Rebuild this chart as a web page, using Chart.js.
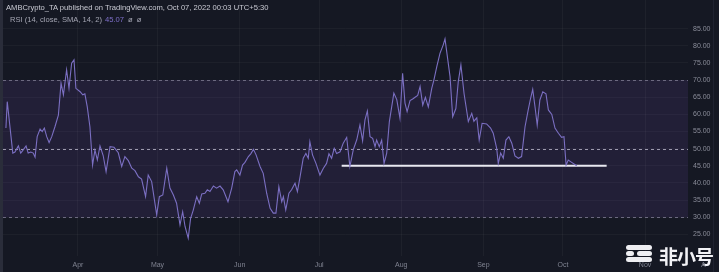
<!DOCTYPE html>
<html>
<head>
<meta charset="utf-8">
<script src="https://cdn.jsdelivr.net/npm/chart.js@4"></script>
<style>
  body { margin: 0; background: #151823; }
  #wrap { position: relative; width: 719px; height: 272px; overflow: hidden; font-family: "Liberation Sans", Arial, sans-serif; }
  #c { position: absolute; left: 0; top: 0; }
  .hdr { position: absolute; white-space: nowrap; font-size: 7.6px; line-height: 9px; }
  #h1 { left: 6px; top: 3px; color: #c9cad3; }
  #h2 { left: 10px; top: 15px; color: #a4a5b2; }
  #h2 .val { color: #7e6fc9; margin-left: 3px; }
  #h2 .ic { margin-left: 4px; color: #a4a5b2; }
  #wm { position: absolute; left: 659px; top: 242px; font-family: "Noto Sans CJK SC", sans-serif; font-weight: 700; font-size: 19px; color: #f2f2f6; letter-spacing: -1px; }
  .pill { position: absolute; background: #eeeef2; border-radius: 3px; height: 4.5px; }
  #auto { position: absolute; left: 701px; top: 261px; font-size: 7px; color: #7f8290; }
</style>
</head>
<body>
<div id="wrap">
  <canvas id="c" width="719" height="272"></canvas>
  <div class="hdr" id="h1">AMBCrypto_TA published on TradingView.com, Oct 07, 2022 00:03 UTC+5:30</div>
  <div class="hdr" id="h2">RSI (14, close, SMA, 14, 2)<span class="val">45.07</span><span class="ic">ø</span><span class="ic">ø</span></div>
  <div class="pill" style="left:626px;top:245px;width:26px;"></div>
  <div class="pill" style="left:626px;top:251px;width:8px;"></div>
  <div class="pill" style="left:637px;top:251px;width:15px;"></div>
  <div class="pill" style="left:626px;top:257px;width:26px;"></div>
  <div id="wm">非小号</div>
  <div id="auto">A</div>
</div>
<script>
// days counted from Apr 1 2022, RSI values
const days = [
  -27.2, -26.7, -24.6, -23.8, -22.5, -21.6, -20.6, -19.6, -18.8, -17.8,
  -16.9, -16.2, -15.4, -14.3, -13.5, -12.7, -11.8, -10.9, -9.9, -8.7,
  -7.4, -6.4, -5.5, -4.3, -3.4, -2.4, -1.5, -0.8, 0.8, 1.8,
  2.6, 3.5, 4.5, 5.5, 6.4, 7.3, 8.3, 9.5, 10.6, 12.1,
  13.6, 15.2, 16.5, 17.7, 19, 20.3, 21.5, 22.8, 24, 25.5,
  26.5, 27.8, 29.7, 30.7, 32, 33.5, 34.7, 36, 37.2, 38.5,
  39.5, 40.4, 41.6, 42.5, 43.5, 44.8, 45.8, 46.7, 47.9, 48.8,
  49.8, 51.1, 52.3, 53.6, 54.8, 56.6, 58, 59.2, 59.9, 61.1,
  62.1, 63, 64.3, 65.2, 66.2, 67.2, 68.7, 69.9, 71.2, 72.5,
  73.7, 74.7, 75.8, 76.9, 77.5, 78.4, 79.6, 80.6, 81.9, 82.8,
  83.8, 85, 86, 86.9, 87.5, 88.5, 89.8, 91.3, 92.6, 93.8,
  94.7, 95.7, 96.7, 97.6, 98.9, 100.1, 101.4, 102.6, 103.9, 105.2,
  106.4, 107.4, 108.3, 109.2, 110.2, 111.2, 112.1, 112.7, 113.7, 114.6,
  115.5, 116.5, 117.5, 119.2, 120.3, 121.5, 122.5, 123.4, 124.2, 125.3,
  126.3, 127.2, 128.2, 129.1, 130.1, 131.1, 132.2, 133.5, 134.3, 135.4,
  136.6, 137.8, 138.5, 140.4, 141.4, 142.6, 143.5, 144.5, 145.7, 147.3,
  148.6, 149.4, 150.5, 151.4, 152.5, 154.2, 155.7, 156.7, 158, 158.6,
  159.5, 160.5, 161.5, 162.6, 163.7, 164.9, 166.2, 167.4, 168.7, 169.9,
  170.8, 171.6, 172.5, 173.3, 174.3, 175.4, 176.6, 177.5, 178.8, 180,
  181.3, 182.5, 183.4, 184.2, 185, 186.3, 188.2
];
const rsi = [
  56, 63.7, 48.7, 49, 50.8, 48.7, 49.7, 50.8, 48.7, 49,
  48.7, 47.5, 53.5, 55.7, 55, 56, 53.5, 51.8, 53.5, 56.4,
  59.8, 69.1, 65.7, 73, 67.6, 74.9, 75.9, 67.6, 66.6, 65.7,
  66, 62.2, 56.4, 45.2, 49.6, 46.7, 50.8, 48, 43.3, 50.6,
  50.4, 48.8, 44.8, 47.7, 46.5, 44.3, 43.6, 41.8, 41.1, 36,
  42.3, 40.4, 30.7, 36, 36.5, 44.3, 38.5, 36.5, 34.1, 27.8,
  31.6, 27.3, 23.9, 29.7, 32.1, 36, 34.1, 36.8, 37, 38,
  37.5, 39.1, 38.5, 39.1, 38, 34.5, 38.5, 43.3, 43.8, 42.3,
  45.2, 46, 47.7, 48.5, 49.8, 48.2, 44.8, 42.8, 37, 32.6,
  31.2, 31.2, 38.9, 34.5, 36, 32.1, 37, 38, 39.9, 37.5,
  41.8, 47.2, 48.6, 47.2, 52, 48.2, 45.7, 42.3, 44.3, 45.7,
  48.5, 47.2, 50.1, 48.6, 49.1, 51.6, 53.3, 44.8, 49.7, 52.6,
  56.9, 52.3, 58.4, 61, 53.5, 53, 50.6, 52.5, 50.6, 52.5,
  45.7, 48.7, 57.9, 66.2, 64.3, 58.9, 72, 63.3, 60.8, 64,
  64.5, 65, 65.5, 68.1, 62.7, 65, 62.2, 67.6, 70, 73.9,
  77.8, 80.2, 82, 71, 59.3, 61.7, 69.5, 74.4, 66, 57.9,
  60.3, 58, 59, 52.5, 57.4, 57.2, 56, 54.5, 50.1, 45.7,
  48.7, 47.2, 52.5, 53.5, 51.6, 47.9, 47.2, 47.7, 56.4, 61.3,
  64.7, 67.3, 62, 56.9, 64.2, 66.6, 66, 61.3, 60, 56,
  54.5, 53.3, 53.5, 45.2, 46.7, 46, 45
];

// white support line drawn on the chart
const supportDays = [99.5, 199.5];
const supportLevel = [45, 45];

const monthDays = [0, 30, 61, 91, 122, 153, 183, 214];
const monthLabels = ["Apr", "May", "Jun", "Jul", "Aug", "Sep", "Oct", "Nov"];
const yTicks = [25, 30, 35, 40, 45, 50, 55, 60, 65, 70, 75, 80, 85];
const bandLevels = [70, 50, 30];

const bgPlugin = {
  id: "tvBackground",
  beforeDraw(chart) {
    const { ctx, chartArea, scales } = chart;
    ctx.save();
    ctx.fillStyle = "#151823";
    ctx.fillRect(0, 0, chart.width, chart.height);
    // RSI band between 70 and 30
    const yTop = scales.y.getPixelForValue(70);
    const yBot = scales.y.getPixelForValue(30);
    ctx.fillStyle = "#221f37";
    ctx.fillRect(chartArea.left, yTop, chartArea.right - chartArea.left, yBot - yTop);
    // left border strip
    ctx.fillStyle = "#2a2d3a";
    ctx.fillRect(0, 0, 3, chart.height);
    // right edge
    ctx.fillStyle = "#1f2230";
    ctx.fillRect(713, 0, 1, chart.height);
    ctx.restore();
  },
  beforeDatasetsDraw(chart) {
    const { ctx, chartArea, scales } = chart;
    ctx.save();
    ctx.lineWidth = 1;
    ctx.setLineDash([3, 3]);
    bandLevels.forEach(lvl => {
      const y = Math.round(scales.y.getPixelForValue(lvl)) + 0.5;
      ctx.strokeStyle = lvl === 50 ? "#9d9aae" : "#6c6980";
      ctx.beginPath();
      ctx.moveTo(chartArea.left, y);
      ctx.lineTo(chartArea.right, y);
      ctx.stroke();
    });
    ctx.restore();
  }
};

// drop the automatic label padding so the plot area fills the canvas edge to edge
function noPad(axis) {
  axis.paddingTop = 0;
  axis.paddingBottom = 0;
  axis.paddingLeft = 0;
  axis.paddingRight = 0;
}

new Chart(document.getElementById("c"), {
  type: "line",
  data: {
    datasets: [
      {
        data: days.map((d, i) => ({ x: d, y: rsi[i] })),
        borderColor: "#7b6fc2",
        borderWidth: 1.1,
        pointRadius: 0,
        tension: 0
      },
      {
        data: supportDays.map((d, i) => ({ x: d, y: supportLevel[i] })),
        borderColor: "#e9e9f1",
        borderWidth: 2,
        pointRadius: 0
      }
    ]
  },
  options: {
    responsive: false,
    animation: false,
    layout: { padding: { left: 3, top: 0, right: 0, bottom: 0 } },
    plugins: { legend: { display: false }, tooltip: { enabled: false } },
    scales: {
      x: {
        type: "linear",
        min: -28.3,
        max: 230.2,
        afterBuildTicks: axis => { axis.ticks = monthDays.map(v => ({ value: v })); },
        afterFit: axis => { axis.height = 16; noPad(axis); },
        ticks: {
          callback: v => monthLabels[monthDays.indexOf(v)],
          color: "#7f8290",
          font: { family: "Liberation Sans", size: 7 },
          maxRotation: 0,
          autoSkip: false,
          padding: 5
        },
        grid: { color: "rgba(255,255,255,0.04)", drawTicks: false },
        border: { display: false }
      },
      y: {
        position: "right",
        min: 18.7,
        max: 93.35,
        afterBuildTicks: axis => { axis.ticks = yTicks.map(v => ({ value: v })); },
        afterFit: axis => { axis.width = 31; noPad(axis); },
        ticks: {
          callback: v => v.toFixed(2),
          color: "#8a8c99",
          font: { family: "Liberation Sans", size: 7 },
          padding: 5
        },
        grid: { color: "rgba(255,255,255,0.035)", drawTicks: false },
        border: { display: false }
      }
    }
  },
  plugins: [bgPlugin]
});
</script>
</body>
</html>
